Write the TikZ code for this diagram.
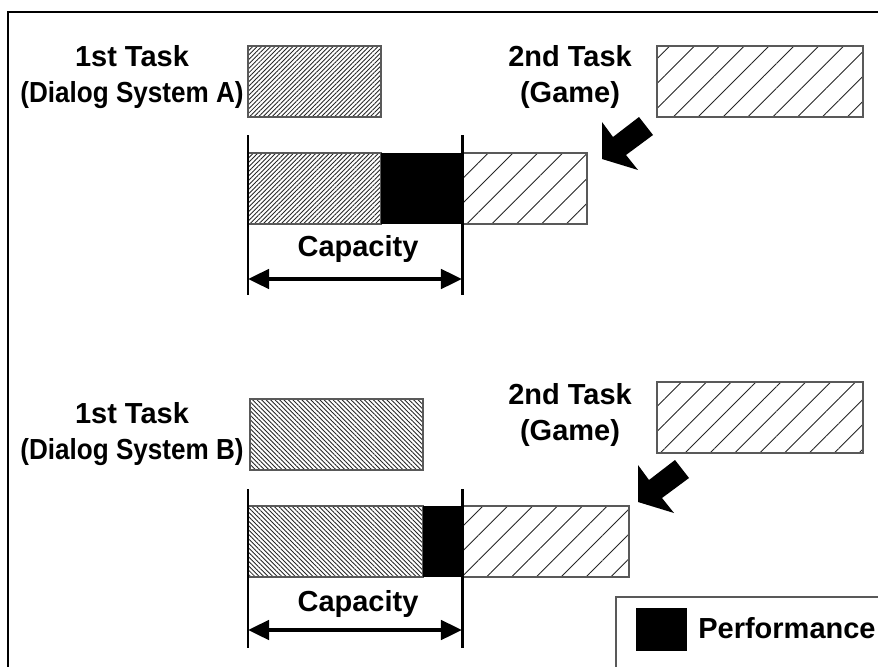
\documentclass[tikz,border=0pt]{standalone}
\usepackage{fontspec}
\setmainfont{Liberation Sans}
\usetikzlibrary{arrows.meta,patterns.meta}

% narrower face for the long system names
\newcommand{\sysname}[1]{{\addfontfeatures{FakeStretch=0.9}#1}}

\begin{document}
\begin{tikzpicture}[
        x=0.02cm, y=-0.02cm,
        tasklabel/.style={font=\bfseries\fontsize{16.5}{20}\selectfont, align=center, inner sep=0pt},
        taskbox/.style={draw=black!65, line width=0.6pt},
        denseA/.style={taskbox, pattern={Lines[angle=45, distance=1.8pt, line width=0.5pt]}, pattern color=black!85},
        denseB/.style={taskbox, pattern={Lines[angle=-45, distance=1.8pt, line width=0.5pt]}, pattern color=black!85},
        game/.style={taskbox, pattern={Lines[angle=45, distance=10pt, line width=0.5pt]}, pattern color=black!85},
        perf/.style={fill=black},
        capline/.style={line width=1.7pt},
        capacity/.style={line width=2.2pt, {Triangle[length=12pt, width=11pt]}-{Triangle[length=12pt, width=11pt]}},
        fatarrow/.pic={\fill (0,0) -- (36,11) -- (24,-4) -- (51,-24) -- (37,-42) -- (11,-22) -- (0,-37) -- cycle;}
    ]
    \useasboundingbox (0,0) rectangle (878,666);
    \clip (0,0) rectangle (878,666);
    % outer frame, cut off at the right and bottom
    \draw[line width=0.8pt] (8,12) rectangle (900,700);

    % Top diagram - Dialog System A
    \node[tasklabel] (taskA) at (132,77) {1st Task\\\sysname{(Dialog System A)}};
    \node[tasklabel] (gameA) at (570,77) {2nd Task\\(Game)};
    \draw[denseA] (248,46) rectangle (381,117);
    \draw[game] (657,46) rectangle (863,117);
    \pic at (602,159) {fatarrow};
    \draw[denseA] (248,153) rectangle (381,224);
    \fill[perf] (381,153) rectangle (462,224);
    \draw[game] (462,153) rectangle (587,224);
    \draw[capline] (248,135) -- (248,295);
    \draw[capline] (462,135) -- (462,295);
    \node[tasklabel, anchor=base] (capA) at (358,256) {Capacity};
    \coordinate (lA) at (248,279);
    \coordinate (rA) at (462,279);
    \draw[capacity] (lA) -- (rA);

    % Bottom diagram - Dialog System B
    \node[tasklabel] (taskB) at (132,434) {1st Task\\\sysname{(Dialog System B)}};
    \node[tasklabel] (gameB) at (570,415) {2nd Task\\(Game)};
    \draw[denseB] (250,399) rectangle (423,470);
    \draw[game] (657,382) rectangle (863,453);
    \pic at (638,502) {fatarrow};
    \draw[denseB] (248,506) rectangle (423,577);
    \fill[perf] (423,506) rectangle (462,577);
    \draw[game] (462,506) rectangle (629,577);
    \draw[capline] (248,489) -- (248,648);
    \draw[capline] (462,489) -- (462,648);
    \node[tasklabel, anchor=base] (capB) at (358,611) {Capacity};
    \coordinate (lB) at (248,630);
    \coordinate (rB) at (462,630);
    \draw[capacity] (lB) -- (rB);

    % legend
    \draw[taskbox] (616,597) rectangle (900,700);
    \fill[perf] (636,608) rectangle (687,651);
    \node[tasklabel, anchor=base west] (perfkey) at (698,638) {Performance};
\end{tikzpicture}
\end{document}
